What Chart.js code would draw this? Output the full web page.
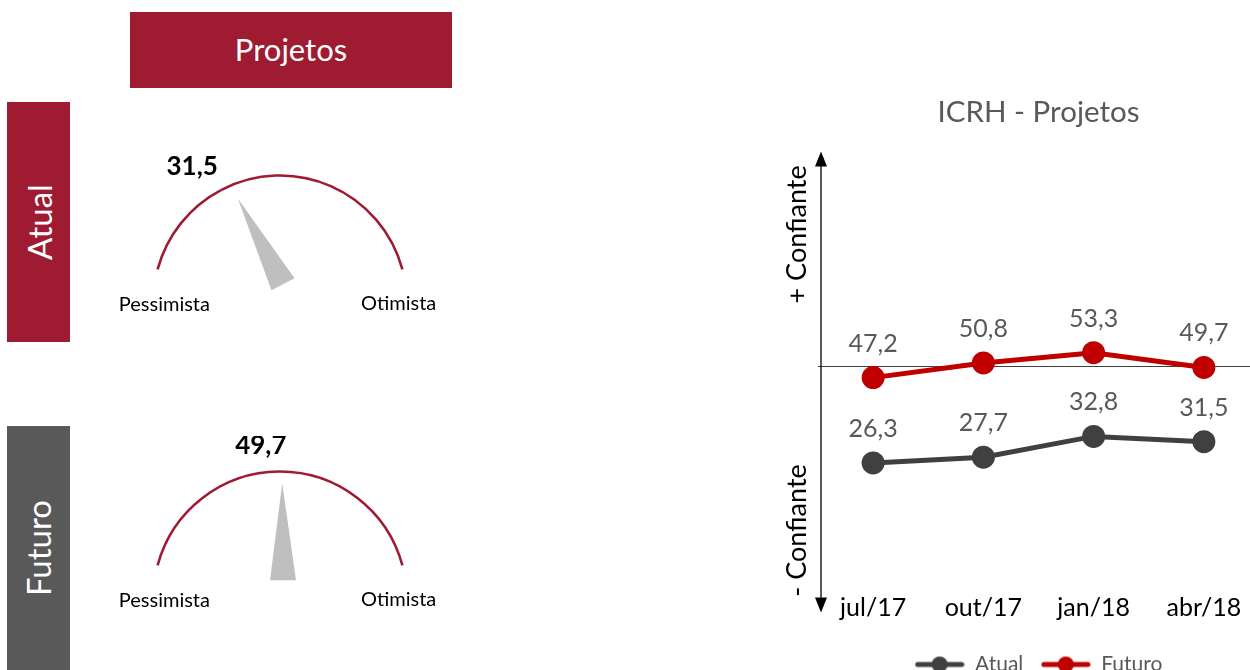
<!DOCTYPE html>
<html lang="pt">
<head>
<meta charset="utf-8">
<title>ICRH - Projetos</title>
<script src="https://cdn.jsdelivr.net/npm/chart.js@4"></script>
<style>
  html, body { margin: 0; padding: 0; width: 1250px; height: 670px; overflow: hidden; background: #fff; font-family: Lato, sans-serif; }
  .box { position: absolute; color: #fff; display: flex; align-items: center; justify-content: center; }
  #topo { left: 130px; top: 12px; width: 322px; height: 76px; background: #9e1b32; font-size: 31px; line-height: 1; padding-bottom: 2px; box-sizing: border-box; }
  .lado { left: 7px; width: 63px; }
  .lado span { transform: rotate(-90deg); white-space: nowrap; font-size: 33px; }
  #atual { top: 102px; height: 240px; background: #9e1b32; }
  #futuro { top: 426px; height: 244px; background: #595959; }
  canvas { position: absolute; }
</style>
</head>
<body>
<div class="box" id="topo">Projetos</div>
<div class="box lado" id="atual"><span>Atual</span></div>
<div class="box lado" id="futuro"><span>Futuro</span></div>

<canvas id="gaugeAtual" width="360" height="200" style="left:100px; top:140px"></canvas>
<canvas id="gaugeFuturo" width="360" height="200" style="left:100px; top:436px"></canvas>
<canvas id="linha" width="529" height="595" style="left:730px; top:90px"></canvas>

<script>
// series do ICRH - Projetos
const periods = ["jul/17", "out/17", "jan/18", "abr/18"];
const atual = [26.3, 27.7, 32.8, 31.5];
const futuro = [47.2, 50.8, 53.3, 49.7];

// os velocimetros mostram o ultimo trimestre
const gaugeValues = [atual[atual.length - 1], futuro[futuro.length - 1]];
const gaugeEnds = ["Pessimista", "Otimista"];

const vinho = "#9e1b32";
const cinzaEscuro = "#404040";
const vermelho = "#c00000";

Chart.defaults.font.family = "Lato, sans-serif";

const fmt = v => v.toFixed(1).replace(".", ",");

// ponteiro + textos do velocimetro
const ponteiro = {
    id: "ponteiro",
    afterDatasetsDraw(chart) {
        const ctx = chart.ctx;
        const arcs = chart.getDatasetMeta(0).data;
        const a = arcs[0];
        const cx = a.x, cy = a.y, R = a.outerRadius;
        const ang = a.endAngle;
        const ux = Math.cos(ang), uy = Math.sin(ang);

        // agulha
        const px = cx + 3, py = cy - 18;
        ctx.save();
        ctx.fillStyle = "#bfbfbf";
        ctx.beginPath();
        ctx.moveTo(px + ux * 97, py + uy * 97);
        ctx.lineTo(px - uy * 13, py + ux * 13);
        ctx.lineTo(px + uy * 13, py - ux * 13);
        ctx.closePath();
        ctx.fill();

        // valor
        const v = chart.data.datasets[0].data[0];
        ctx.fillStyle = "#000";
        ctx.font = "bold 26px Lato, sans-serif";
        ctx.textAlign = "center";
        ctx.textBaseline = "middle";
        ctx.fillText(fmt(v), cx + ux * 150 - 18, cy + uy * 153);

        // extremos
        const start = a.startAngle;
        const end = arcs[arcs.length - 1].endAngle;
        ctx.font = "20px Lato, sans-serif";
        ctx.fillText(gaugeEnds[0], cx + Math.cos(start) * R + 8, cy + Math.sin(start) * R + 35);
        ctx.fillText(gaugeEnds[1], cx + Math.cos(end) * R - 5, cy + Math.sin(end) * R + 34);
        ctx.restore();
    }
};

function gauge(id, value) {
    new Chart(document.getElementById(id), {
        type: "doughnut",
        data: {
            datasets: [{
                data: [value, 100 - value],
                backgroundColor: [vinho, vinho],
                borderWidth: 0
            }]
        },
        options: {
            responsive: false,
            animation: false,
            rotation: -75,
            circumference: 150,
            radius: 128,
            cutout: "98%",
            layout: { padding: { bottom: 36 } },
            plugins: {
                legend: { display: false },
                tooltip: { enabled: false }
            }
        },
        plugins: [ponteiro]
    });
}

gauge("gaugeAtual", gaugeValues[0]);
gauge("gaugeFuturo", gaugeValues[1]);

// eixo vertical com setas, titulos e rotulos de dados
const eixos = {
    id: "eixos",
    beforeDatasetsDraw(chart) {
        const ctx = chart.ctx;
        const area = chart.chartArea;
        const x = area.left + 3;
        const top = area.top;
        const bottom = area.bottom + 34;
        ctx.save();
        ctx.strokeStyle = "#000";
        ctx.fillStyle = "#000";
        ctx.lineWidth = 1.3;
        ctx.beginPath();
        ctx.moveTo(x, top + 10);
        ctx.lineTo(x, bottom - 10);
        ctx.stroke();
        ctx.beginPath();
        ctx.moveTo(x, top);
        ctx.lineTo(x - 6, top + 15);
        ctx.lineTo(x + 6, top + 15);
        ctx.closePath();
        ctx.fill();
        ctx.beginPath();
        ctx.moveTo(x, bottom);
        ctx.lineTo(x - 6, bottom - 15);
        ctx.lineTo(x + 6, bottom - 15);
        ctx.closePath();
        ctx.fill();

        ctx.font = "27px Lato, sans-serif";
        ctx.textAlign = "center";
        ctx.textBaseline = "middle";
        ctx.translate(x - 24, 0);
        ctx.rotate(-Math.PI / 2);
        ctx.fillText("+ Confiante", -(top + 83), 0);
        ctx.fillText("- Confiante", -(bottom - 82), 0);
        ctx.restore();
    },
    afterDatasetsDraw(chart) {
        const ctx = chart.ctx;
        ctx.save();
        ctx.fillStyle = "#595959";
        ctx.font = "25px Lato, sans-serif";
        ctx.textAlign = "center";
        ctx.textBaseline = "middle";
        chart.data.datasets.forEach((ds, i) => {
            chart.getDatasetMeta(i).data.forEach((pt, j) => {
                ctx.fillText(fmt(ds.data[j]), pt.x, pt.y - 34);
            });
        });
        ctx.restore();
    }
};

function legendIcon(color) {
    const c = document.createElement("canvas");
    c.width = 50;
    c.height = 18;
    const g = c.getContext("2d");
    g.strokeStyle = color;
    g.lineWidth = 5;
    g.lineCap = "round";
    g.beginPath();
    g.moveTo(3, 9);
    g.lineTo(47, 9);
    g.stroke();
    g.fillStyle = color;
    g.beginPath();
    g.arc(25, 9, 8, 0, Math.PI * 2);
    g.fill();
    return c;
}

new Chart(document.getElementById("linha"), {
    type: "line",
    data: {
        labels: periods,
        datasets: [{
            label: "Atual",
            data: atual,
            borderColor: cinzaEscuro,
            backgroundColor: cinzaEscuro,
            borderWidth: 5,
            pointRadius: 9,
            pointHoverRadius: 9,
            tension: 0
        }, {
            label: "Futuro",
            data: futuro,
            borderColor: vermelho,
            backgroundColor: vermelho,
            borderWidth: 5,
            pointRadius: 9,
            pointHoverRadius: 9,
            tension: 0
        }]
    },
    options: {
        responsive: false,
        animation: false,
        layout: { padding: { left: 88 }, autoPadding: false },
        scales: {
            x: {
                offset: true,
                grid: { display: false, drawTicks: false },
                border: { display: false },
                ticks: { color: "#000", font: { size: 25, lineHeight: 2.32 }, padding: 0 }
            },
            y: {
                min: -2.0,
                max: 102.6,
                grid: { color: cinzaEscuro, drawTicks: false },
                border: { display: false },
                ticks: { display: false },
                afterBuildTicks: axis => { axis.ticks = [{ value: 50 }]; }
            }
        },
        plugins: {
            title: {
                display: true,
                text: "ICRH - Projetos",
                color: "#595959",
                font: { size: 29.5, weight: "normal" },
                padding: { top: 5, bottom: 21 }
            },
            legend: {
                position: "bottom",
                labels: {
                    usePointStyle: true,
                    pointStyleWidth: 50,
                    color: "#595959",
                    font: { size: 21 },
                    padding: 17.5,
                    generateLabels: chart => chart.data.datasets.map((ds, i) => ({
                        text: ds.label,
                        pointStyle: legendIcon(ds.borderColor),
                        fillStyle: ds.borderColor,
                        strokeStyle: ds.borderColor,
                        fontColor: "#595959",
                        lineWidth: 0,
                        hidden: false,
                        datasetIndex: i
                    }))
                }
            },
            tooltip: { enabled: false }
        }
    },
    plugins: [eixos]
});
</script>
</body>
</html>
